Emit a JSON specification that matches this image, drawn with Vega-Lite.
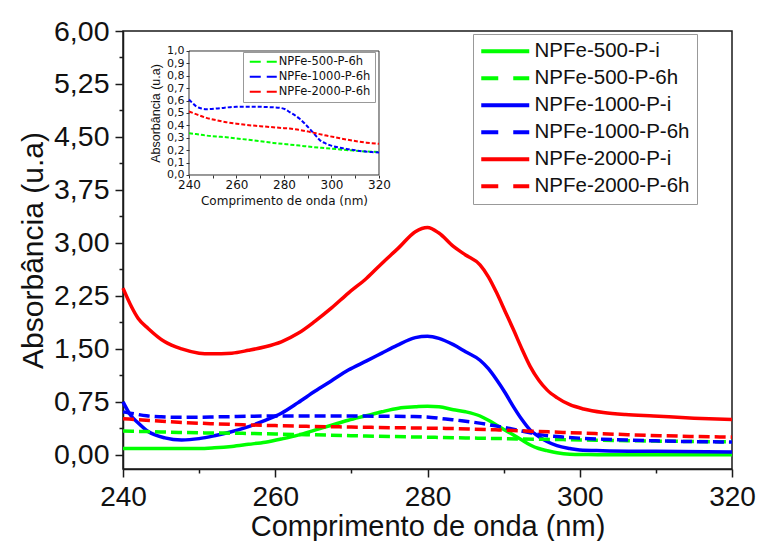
{
  "$schema": "https://vega.github.io/schema/vega-lite/v6.json",
  "width": 609,
  "height": 438,
  "autosize": "none",
  "padding": {"left": 123, "top": 31, "right": 25, "bottom": 72},
  "background": "white",
  "config": {
    "font": "Liberation Sans",
    "view": {"stroke": "#1a1a1a", "strokeWidth": 1.5}
  },
  "datasets": {
    "spectra": [
      {"series": "NPFe-500-P-i", "nm": 240, "abs": 0.09},
      {"series": "NPFe-500-P-i", "nm": 244, "abs": 0.09},
      {"series": "NPFe-500-P-i", "nm": 248, "abs": 0.09},
      {"series": "NPFe-500-P-i", "nm": 250, "abs": 0.09},
      {"series": "NPFe-500-P-i", "nm": 252, "abs": 0.10},
      {"series": "NPFe-500-P-i", "nm": 254.3, "abs": 0.12},
      {"series": "NPFe-500-P-i", "nm": 256.5, "abs": 0.15},
      {"series": "NPFe-500-P-i", "nm": 258.7, "abs": 0.18},
      {"series": "NPFe-500-P-i", "nm": 261, "abs": 0.23},
      {"series": "NPFe-500-P-i", "nm": 263, "abs": 0.28},
      {"series": "NPFe-500-P-i", "nm": 265.2, "abs": 0.35},
      {"series": "NPFe-500-P-i", "nm": 267.4, "abs": 0.42},
      {"series": "NPFe-500-P-i", "nm": 269.6, "abs": 0.49},
      {"series": "NPFe-500-P-i", "nm": 271.8, "abs": 0.55},
      {"series": "NPFe-500-P-i", "nm": 274, "abs": 0.61},
      {"series": "NPFe-500-P-i", "nm": 276.2, "abs": 0.66},
      {"series": "NPFe-500-P-i", "nm": 278.4, "abs": 0.68},
      {"series": "NPFe-500-P-i", "nm": 280, "abs": 0.69},
      {"series": "NPFe-500-P-i", "nm": 281.5, "abs": 0.68},
      {"series": "NPFe-500-P-i", "nm": 283.4, "abs": 0.64},
      {"series": "NPFe-500-P-i", "nm": 285, "abs": 0.61},
      {"series": "NPFe-500-P-i", "nm": 286.9, "abs": 0.55},
      {"series": "NPFe-500-P-i", "nm": 288, "abs": 0.49},
      {"series": "NPFe-500-P-i", "nm": 289.1, "abs": 0.42},
      {"series": "NPFe-500-P-i", "nm": 290.2, "abs": 0.35},
      {"series": "NPFe-500-P-i", "nm": 291.3, "abs": 0.28},
      {"series": "NPFe-500-P-i", "nm": 292.4, "abs": 0.21},
      {"series": "NPFe-500-P-i", "nm": 293.5, "abs": 0.14},
      {"series": "NPFe-500-P-i", "nm": 294.6, "abs": 0.09},
      {"series": "NPFe-500-P-i", "nm": 295.7, "abs": 0.06},
      {"series": "NPFe-500-P-i", "nm": 297, "abs": 0.03},
      {"series": "NPFe-500-P-i", "nm": 298.7, "abs": 0.01},
      {"series": "NPFe-500-P-i", "nm": 301, "abs": 0.005},
      {"series": "NPFe-500-P-i", "nm": 305, "abs": 0.0},
      {"series": "NPFe-500-P-i", "nm": 310, "abs": 0.0},
      {"series": "NPFe-500-P-i", "nm": 320, "abs": 0.0},

      {"series": "NPFe-1000-P-i", "nm": 240, "abs": 0.75},
      {"series": "NPFe-1000-P-i", "nm": 241, "abs": 0.56},
      {"series": "NPFe-1000-P-i", "nm": 242, "abs": 0.45},
      {"series": "NPFe-1000-P-i", "nm": 243.3, "abs": 0.33},
      {"series": "NPFe-1000-P-i", "nm": 245.5, "abs": 0.24},
      {"series": "NPFe-1000-P-i", "nm": 247.7, "abs": 0.21},
      {"series": "NPFe-1000-P-i", "nm": 250, "abs": 0.23},
      {"series": "NPFe-1000-P-i", "nm": 252, "abs": 0.27},
      {"series": "NPFe-1000-P-i", "nm": 254, "abs": 0.32},
      {"series": "NPFe-1000-P-i", "nm": 256.5, "abs": 0.40},
      {"series": "NPFe-1000-P-i", "nm": 258.5, "abs": 0.48},
      {"series": "NPFe-1000-P-i", "nm": 260.8, "abs": 0.59},
      {"series": "NPFe-1000-P-i", "nm": 263, "abs": 0.74},
      {"series": "NPFe-1000-P-i", "nm": 265.2, "abs": 0.90},
      {"series": "NPFe-1000-P-i", "nm": 267.4, "abs": 1.05},
      {"series": "NPFe-1000-P-i", "nm": 269.6, "abs": 1.20},
      {"series": "NPFe-1000-P-i", "nm": 272, "abs": 1.33},
      {"series": "NPFe-1000-P-i", "nm": 274, "abs": 1.44},
      {"series": "NPFe-1000-P-i", "nm": 276, "abs": 1.55},
      {"series": "NPFe-1000-P-i", "nm": 278.4, "abs": 1.66},
      {"series": "NPFe-1000-P-i", "nm": 280, "abs": 1.68},
      {"series": "NPFe-1000-P-i", "nm": 281.5, "abs": 1.65},
      {"series": "NPFe-1000-P-i", "nm": 283.4, "abs": 1.56},
      {"series": "NPFe-1000-P-i", "nm": 285, "abs": 1.46},
      {"series": "NPFe-1000-P-i", "nm": 286.9, "abs": 1.34},
      {"series": "NPFe-1000-P-i", "nm": 288, "abs": 1.22},
      {"series": "NPFe-1000-P-i", "nm": 289.1, "abs": 1.06},
      {"series": "NPFe-1000-P-i", "nm": 290.2, "abs": 0.88},
      {"series": "NPFe-1000-P-i", "nm": 291.3, "abs": 0.68},
      {"series": "NPFe-1000-P-i", "nm": 292.4, "abs": 0.50},
      {"series": "NPFe-1000-P-i", "nm": 293.5, "abs": 0.35},
      {"series": "NPFe-1000-P-i", "nm": 294.6, "abs": 0.26},
      {"series": "NPFe-1000-P-i", "nm": 295.7, "abs": 0.19},
      {"series": "NPFe-1000-P-i", "nm": 297, "abs": 0.13},
      {"series": "NPFe-1000-P-i", "nm": 298.7, "abs": 0.09},
      {"series": "NPFe-1000-P-i", "nm": 300, "abs": 0.07},
      {"series": "NPFe-1000-P-i", "nm": 303, "abs": 0.06},
      {"series": "NPFe-1000-P-i", "nm": 310, "abs": 0.05},
      {"series": "NPFe-1000-P-i", "nm": 320, "abs": 0.04},

      {"series": "NPFe-2000-P-i", "nm": 240, "abs": 2.36},
      {"series": "NPFe-2000-P-i", "nm": 241.1, "abs": 2.10},
      {"series": "NPFe-2000-P-i", "nm": 242, "abs": 1.93},
      {"series": "NPFe-2000-P-i", "nm": 243.3, "abs": 1.79},
      {"series": "NPFe-2000-P-i", "nm": 245.5, "abs": 1.60},
      {"series": "NPFe-2000-P-i", "nm": 247.7, "abs": 1.50},
      {"series": "NPFe-2000-P-i", "nm": 250, "abs": 1.44},
      {"series": "NPFe-2000-P-i", "nm": 251.5, "abs": 1.43},
      {"series": "NPFe-2000-P-i", "nm": 254.3, "abs": 1.44},
      {"series": "NPFe-2000-P-i", "nm": 256.5, "abs": 1.48},
      {"series": "NPFe-2000-P-i", "nm": 258.7, "abs": 1.53},
      {"series": "NPFe-2000-P-i", "nm": 260.8, "abs": 1.60},
      {"series": "NPFe-2000-P-i", "nm": 263, "abs": 1.72},
      {"series": "NPFe-2000-P-i", "nm": 265.2, "abs": 1.89},
      {"series": "NPFe-2000-P-i", "nm": 267.4, "abs": 2.08},
      {"series": "NPFe-2000-P-i", "nm": 269.6, "abs": 2.29},
      {"series": "NPFe-2000-P-i", "nm": 272, "abs": 2.50},
      {"series": "NPFe-2000-P-i", "nm": 274, "abs": 2.71},
      {"series": "NPFe-2000-P-i", "nm": 276.2, "abs": 2.93},
      {"series": "NPFe-2000-P-i", "nm": 278.4, "abs": 3.16},
      {"series": "NPFe-2000-P-i", "nm": 280, "abs": 3.22},
      {"series": "NPFe-2000-P-i", "nm": 281.5, "abs": 3.14},
      {"series": "NPFe-2000-P-i", "nm": 283.4, "abs": 2.95},
      {"series": "NPFe-2000-P-i", "nm": 285, "abs": 2.83},
      {"series": "NPFe-2000-P-i", "nm": 286.9, "abs": 2.69},
      {"series": "NPFe-2000-P-i", "nm": 288, "abs": 2.52},
      {"series": "NPFe-2000-P-i", "nm": 289.1, "abs": 2.29},
      {"series": "NPFe-2000-P-i", "nm": 290.2, "abs": 2.03},
      {"series": "NPFe-2000-P-i", "nm": 291.3, "abs": 1.77},
      {"series": "NPFe-2000-P-i", "nm": 292.4, "abs": 1.50},
      {"series": "NPFe-2000-P-i", "nm": 293.5, "abs": 1.25},
      {"series": "NPFe-2000-P-i", "nm": 294.6, "abs": 1.06},
      {"series": "NPFe-2000-P-i", "nm": 295.7, "abs": 0.92},
      {"series": "NPFe-2000-P-i", "nm": 297, "abs": 0.81},
      {"series": "NPFe-2000-P-i", "nm": 298.7, "abs": 0.71},
      {"series": "NPFe-2000-P-i", "nm": 300.5, "abs": 0.65},
      {"series": "NPFe-2000-P-i", "nm": 303.1, "abs": 0.60},
      {"series": "NPFe-2000-P-i", "nm": 306, "abs": 0.57},
      {"series": "NPFe-2000-P-i", "nm": 309.7, "abs": 0.55},
      {"series": "NPFe-2000-P-i", "nm": 315, "abs": 0.52},
      {"series": "NPFe-2000-P-i", "nm": 320, "abs": 0.50},

      {"series": "NPFe-500-P-6h", "nm": 240, "abs": 0.337},
      {"series": "NPFe-500-P-6h", "nm": 243, "abs": 0.33},
      {"series": "NPFe-500-P-6h", "nm": 247.3, "abs": 0.318},
      {"series": "NPFe-500-P-6h", "nm": 251.5, "abs": 0.31},
      {"series": "NPFe-500-P-6h", "nm": 255.7, "abs": 0.305},
      {"series": "NPFe-500-P-6h", "nm": 260, "abs": 0.295},
      {"series": "NPFe-500-P-6h", "nm": 264.1, "abs": 0.286},
      {"series": "NPFe-500-P-6h", "nm": 270, "abs": 0.272},
      {"series": "NPFe-500-P-6h", "nm": 275.4, "abs": 0.259},
      {"series": "NPFe-500-P-6h", "nm": 281, "abs": 0.248},
      {"series": "NPFe-500-P-6h", "nm": 286.6, "abs": 0.237},
      {"series": "NPFe-500-P-6h", "nm": 292, "abs": 0.226},
      {"series": "NPFe-500-P-6h", "nm": 297.8, "abs": 0.216},
      {"series": "NPFe-500-P-6h", "nm": 303, "abs": 0.207},
      {"series": "NPFe-500-P-6h", "nm": 309.1, "abs": 0.197},
      {"series": "NPFe-500-P-6h", "nm": 314, "abs": 0.19},
      {"series": "NPFe-500-P-6h", "nm": 320, "abs": 0.186},

      {"series": "NPFe-1000-P-6h", "nm": 240, "abs": 0.609},
      {"series": "NPFe-1000-P-6h", "nm": 241.5, "abs": 0.58},
      {"series": "NPFe-1000-P-6h", "nm": 243.1, "abs": 0.553},
      {"series": "NPFe-1000-P-6h", "nm": 245, "abs": 0.538},
      {"series": "NPFe-1000-P-6h", "nm": 247.3, "abs": 0.531},
      {"series": "NPFe-1000-P-6h", "nm": 251.5, "abs": 0.536},
      {"series": "NPFe-1000-P-6h", "nm": 255, "abs": 0.543},
      {"series": "NPFe-1000-P-6h", "nm": 259.9, "abs": 0.55},
      {"series": "NPFe-1000-P-6h", "nm": 265, "abs": 0.551},
      {"series": "NPFe-1000-P-6h", "nm": 270, "abs": 0.55},
      {"series": "NPFe-1000-P-6h", "nm": 275, "abs": 0.546},
      {"series": "NPFe-1000-P-6h", "nm": 278.2, "abs": 0.542},
      {"series": "NPFe-1000-P-6h", "nm": 280.5, "abs": 0.53},
      {"series": "NPFe-1000-P-6h", "nm": 282.4, "abs": 0.507},
      {"series": "NPFe-1000-P-6h", "nm": 284.5, "abs": 0.483},
      {"series": "NPFe-1000-P-6h", "nm": 286.6, "abs": 0.453},
      {"series": "NPFe-1000-P-6h", "nm": 288.7, "abs": 0.415},
      {"series": "NPFe-1000-P-6h", "nm": 290.8, "abs": 0.372},
      {"series": "NPFe-1000-P-6h", "nm": 293, "abs": 0.325},
      {"series": "NPFe-1000-P-6h", "nm": 295, "abs": 0.283},
      {"series": "NPFe-1000-P-6h", "nm": 297.5, "abs": 0.255},
      {"series": "NPFe-1000-P-6h", "nm": 299.9, "abs": 0.237},
      {"series": "NPFe-1000-P-6h", "nm": 303, "abs": 0.222},
      {"series": "NPFe-1000-P-6h", "nm": 306.3, "abs": 0.21},
      {"series": "NPFe-1000-P-6h", "nm": 310, "abs": 0.199},
      {"series": "NPFe-1000-P-6h", "nm": 313.3, "abs": 0.191},
      {"series": "NPFe-1000-P-6h", "nm": 317, "abs": 0.185},
      {"series": "NPFe-1000-P-6h", "nm": 320, "abs": 0.181},

      {"series": "NPFe-2000-P-6h", "nm": 240, "abs": 0.512},
      {"series": "NPFe-2000-P-6h", "nm": 243.5, "abs": 0.487},
      {"series": "NPFe-2000-P-6h", "nm": 247.3, "abs": 0.461},
      {"series": "NPFe-2000-P-6h", "nm": 251.5, "abs": 0.442},
      {"series": "NPFe-2000-P-6h", "nm": 255.7, "abs": 0.426},
      {"series": "NPFe-2000-P-6h", "nm": 260, "abs": 0.414},
      {"series": "NPFe-2000-P-6h", "nm": 264.1, "abs": 0.404},
      {"series": "NPFe-2000-P-6h", "nm": 270, "abs": 0.394},
      {"series": "NPFe-2000-P-6h", "nm": 275.4, "abs": 0.385},
      {"series": "NPFe-2000-P-6h", "nm": 280, "abs": 0.378},
      {"series": "NPFe-2000-P-6h", "nm": 282.4, "abs": 0.375},
      {"series": "NPFe-2000-P-6h", "nm": 286, "abs": 0.365},
      {"series": "NPFe-2000-P-6h", "nm": 289.4, "abs": 0.353},
      {"series": "NPFe-2000-P-6h", "nm": 293.5, "abs": 0.336},
      {"series": "NPFe-2000-P-6h", "nm": 297.8, "abs": 0.318},
      {"series": "NPFe-2000-P-6h", "nm": 302, "abs": 0.302},
      {"series": "NPFe-2000-P-6h", "nm": 306.3, "abs": 0.286},
      {"series": "NPFe-2000-P-6h", "nm": 310.5, "abs": 0.272},
      {"series": "NPFe-2000-P-6h", "nm": 314.7, "abs": 0.261},
      {"series": "NPFe-2000-P-6h", "nm": 320, "abs": 0.251}
    ]
  },
  "layer": [
    {
      "data": {"name": "spectra"},
      "encoding": {
        "x": {
          "field": "nm", "type": "quantitative",
          "scale": {"domain": [240, 320], "nice": false},
          "axis": {
            "title": "Comprimento de onda (nm)",
            "values": [240, 250, 260, 270, 280, 290, 300, 310, 320],
            "labelExpr": "datum.value % 20 == 0 ? datum.label : ''",
            "tickSize": {"condition": {"test": "datum.value % 20 != 0", "value": 4}, "value": 8},
            "labelFontSize": 28, "titleFontSize": 29, "titleFontWeight": "normal",
            "labelPadding": 6, "titlePadding": 1,
            "grid": false, "labelFlush": false, "labelOverlap": false, "labelBound": false,
            "domainColor": "#1a1a1a", "tickColor": "#1a1a1a", "domainWidth": 1.5, "tickWidth": 1.5,
            "labelColor": "#111", "titleColor": "#111"
          }
        },
        "y": {
          "field": "abs", "type": "quantitative",
          "scale": {"domain": [-0.2, 6], "nice": false, "zero": false},
          "axis": {
            "title": "Absorbância (u.a)",
            "values": [0, 0.375, 0.75, 1.125, 1.5, 1.875, 2.25, 2.625, 3, 3.375, 3.75, 4.125, 4.5, 4.875, 5.25, 5.625, 6],
            "labelExpr": "abs(datum.value / 0.75 - round(datum.value / 0.75)) < 0.01 ? replace(format(datum.value, '.2f'), '.', ',') : ''",
            "tickSize": {"condition": {"test": "abs(datum.value / 0.75 - round(datum.value / 0.75)) > 0.01", "value": 4}, "value": 8},
            "labelFontSize": 28.5, "titleFontSize": 30, "titleFontWeight": "normal",
            "labelPadding": 6, "titlePadding": 5,
            "grid": false, "labelFlush": false, "labelOverlap": false, "labelBound": false,
            "domainColor": "#1a1a1a", "tickColor": "#1a1a1a", "domainWidth": 1.5, "tickWidth": 1.5,
            "labelColor": "#111", "titleColor": "#111"
          }
        },
        "color": {
          "field": "series", "type": "nominal",
          "scale": {
            "domain": ["NPFe-500-P-i", "NPFe-500-P-6h", "NPFe-1000-P-i", "NPFe-1000-P-6h", "NPFe-2000-P-i", "NPFe-2000-P-6h"],
            "range": ["#00ff00", "#00ff00", "#0000ff", "#0000ff", "#ff0000", "#ff0000"]
          },
          "legend": {
            "orient": "none", "legendX": 350, "legendY": 3, "title": null,
            "symbolType": "M-4,0H4", "symbolSize": 144, "symbolOffset": 15, "labelOffset": 19,
            "symbolStrokeWidth": 4, "labelFontSize": 20.5, "labelLimit": 300, "labelColor": "#111",
            "rowPadding": 6, "padding": 7, "strokeColor": "#999", "fillColor": "white",
            "encode": {"symbols": {"update": {"strokeDash": {"signal": "indexof(datum.value, '6h') >= 0 ? [17, 15] : [1, 0]"}}}}
          }
        }
      },
      "layer": [
        {
          "transform": [{"filter": "indexof(datum.series, '-i') >= 0"}],
          "mark": {"type": "line", "strokeWidth": 3.5, "interpolate": "monotone"}
        },
        {
          "transform": [{"filter": "indexof(datum.series, '6h') >= 0"}],
          "mark": {"type": "line", "strokeWidth": 3.5, "strokeDash": [11, 5], "interpolate": "monotone"}
        }
      ]
    },
    {
      "layer": [
        {
          "data": {"values": [{}]},
          "mark": {"type": "rect", "fill": "white", "stroke": "#333", "strokeWidth": 1},
          "encoding": {
            "x": {"datum": 240, "type": "quantitative", "title": "Comprimento de onda (nm)"},
            "x2": {"datum": 320},
            "y": {"datum": 0, "type": "quantitative", "title": "Absorbância (u.a)"},
            "y2": {"datum": 1}
          }
        },
        {
          "data": {"name": "spectra"},
          "transform": [{"filter": "indexof(datum.series, '6h') >= 0"}],
          "mark": {"type": "line", "strokeWidth": 2, "strokeDash": [4, 2], "interpolate": "monotone"},
          "encoding": {
            "x": {
              "field": "nm", "type": "quantitative", "title": "Comprimento de onda (nm)",
              "scale": {"domain": [212.211, 468.632], "nice": false, "zero": false},
              "axis": {
                "orient": "bottom", "offset": -294, "zindex": 1, "domain": false,
                "values": [240, 250, 260, 270, 280, 290, 300, 310, 320],
                "labelExpr": "datum.value % 20 == 0 ? datum.label : ''",
                "tickSize": 3, "labelFont": "DejaVu Sans", "labelFontSize": 12, "labelPadding": 1,
                "titleFont": "DejaVu Sans", "titleFontSize": 12, "titleFontWeight": "normal", "titlePadding": 5,
                "titleX": 161,
                "grid": false, "labelFlush": false, "labelOverlap": false, "labelBound": false,
                "tickColor": "#333", "labelColor": "#111", "titleColor": "#111"
              }
            },
            "y": {
              "field": "abs", "type": "quantitative", "title": "Absorbância (u.a)",
              "scale": {"domain": [-2.37097, 1.16129], "nice": false, "zero": false},
              "axis": {
                "orient": "left", "offset": -66, "zindex": 1, "domain": false,
                "values": [0, 0.1, 0.2, 0.3, 0.4, 0.5, 0.6, 0.7, 0.8, 0.9, 1.0],
                "labelExpr": "replace(format(datum.value, '.1f'), '.', ',')",
                "tickSize": 3, "labelFont": "DejaVu Sans", "labelFontSize": 11, "labelPadding": 2,
                "titleFont": "Liberation Sans", "titleFontSize": 12.5, "titleFontWeight": "normal", "titlePadding": 4,
                "titleY": 82,
                "grid": false, "labelFlush": false, "labelOverlap": false, "labelBound": false,
                "tickColor": "#333", "labelColor": "#111", "titleColor": "#111"
              }
            },
            "color": {
              "field": "series", "type": "nominal",
              "scale": {
                "domain": ["NPFe-500-P-6h", "NPFe-1000-P-6h", "NPFe-2000-P-6h"],
                "range": ["#00ff00", "#0000ff", "#ff0000"]
              },
              "legend": {
                "orient": "none", "legendX": 120, "legendY": 21, "title": null,
                "symbolType": "M-4.5,0H4.5", "symbolSize": 36, "symbolOffset": 10.5, "labelOffset": 9.7,
                "symbolStrokeWidth": 2, "symbolDash": [11, 6],
                "labelFont": "DejaVu Sans", "labelFontSize": 11.5, "labelLimit": 200, "labelColor": "#111",
                "rowPadding": 2, "padding": 4, "strokeColor": "#999", "fillColor": "white"
              }
            }
          }
        }
      ]
    }
  ],
  "resolve": {
    "scale": {"x": "independent", "y": "independent", "color": "independent"},
    "axis": {"x": "independent", "y": "independent"},
    "legend": {"color": "independent"}
  }
}
